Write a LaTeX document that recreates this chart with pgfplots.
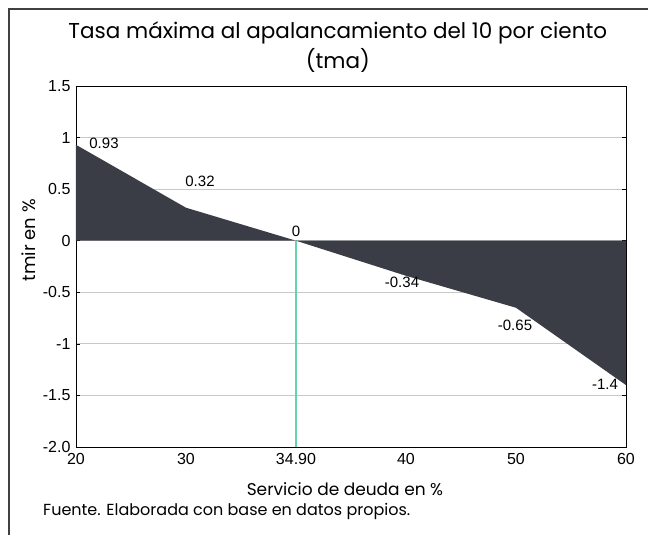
\documentclass[border=0pt]{standalone}
\usepackage{fontspec}
\setmainfont{Poppins}
\newfontfamily\arial{Liberation Sans}
\usepackage{pgfplots}
\pgfplotsset{compat=1.18}
\definecolor{areafill}{RGB}{58,61,70}
\definecolor{vline}{RGB}{100,210,170}
\definecolor{gridgray}{RGB}{200,200,200}
\begin{document}
\begin{tikzpicture}[x=1pt,y=1pt]
\useasboundingbox (0,0) rectangle (648,535);
\draw[line width=1.3pt, black!75] (9,0) -- (9,526) -- (648,526);
\begin{axis}[
  at={(76pt,88pt)}, anchor=south west,
  width=550pt, height=361pt, scale only axis,
  xmin=0, xmax=5, ymin=-2, ymax=1.5,
  xtick={0,1,2,3,4,5},
  xticklabels={20,30,34.90,40,50,60},
  ytick={-2,-1.5,-1,-0.5,0,0.5,1,1.5},
  yticklabels={-2.0,-1.5,-1,-0.5,0,0.5,1,1.5},
  /pgf/number format/assume math mode=true,
  tick label style={font=\arial\fontsize{16}{16}\selectfont, black},
  xticklabel style={yshift=-3pt},
  yticklabel style={xshift=-2pt},
  xtick style={draw=none},
  ytick style={black, line width=0.6pt},
  tick align=inside,
  major tick length=4pt,
  ymajorgrids,
  major grid style={gridgray, line width=0.8pt},
  axis line style={black, line width=0.8pt},
  title={Tasa máxima al apalancamiento del 10 por ciento\\(tma)},
  title style={at={(0.476,1.09)}, anchor=center, align=center, font=\fontsize{21.5}{30}\selectfont},
  xlabel={Servicio de deuda en \%},
  xlabel style={at={(0.489,-0.116)}, anchor=center, font=\fontsize{17}{17}\selectfont},
  ylabel={tmir en \%},
  ylabel style={at={(-0.085,0.573)}, anchor=center, font=\fontsize{18}{18}\selectfont},
  clip=false,
]
\addplot[fill=areafill, draw=none] coordinates {
  (0,0) (0,0.93) (1,0.32) (2,0) (3,-0.34) (4,-0.65) (5,-1.4) (5,0)
} -- cycle;
\addplot[vline, line width=1.3pt] coordinates {(2,0) (2,-2)};
\addplot[draw=none, mark=none,
  nodes near coords,
  point meta=explicit symbolic,
  visualization depends on={value \thisrow{dx}\as\dx},
  visualization depends on={value \thisrow{dy}\as\dy},
  nodes near coords style={anchor=center, xshift=\dx pt, yshift=\dy pt, font=\arial\fontsize{15}{15}\selectfont, black, inner sep=0pt},
] table[x=x, y=y, meta=lab] {
x y lab dx dy
0 0.93 0.93 28 1
1 0.32 0.32 14 26
2 0 0 0 9
3 -0.34 -0.34 -4 -7
4 -0.65 -0.65 -1 -18
5 -1.4 -1.4 -21 1
};
\node[anchor=west, font=\fontsize{16}{16}\selectfont, inner sep=0pt] at (rel axis cs:-0.06,-0.18) {Fuente. Elaborada con base en datos propios.};
\end{axis}
\end{tikzpicture}
\end{document}
